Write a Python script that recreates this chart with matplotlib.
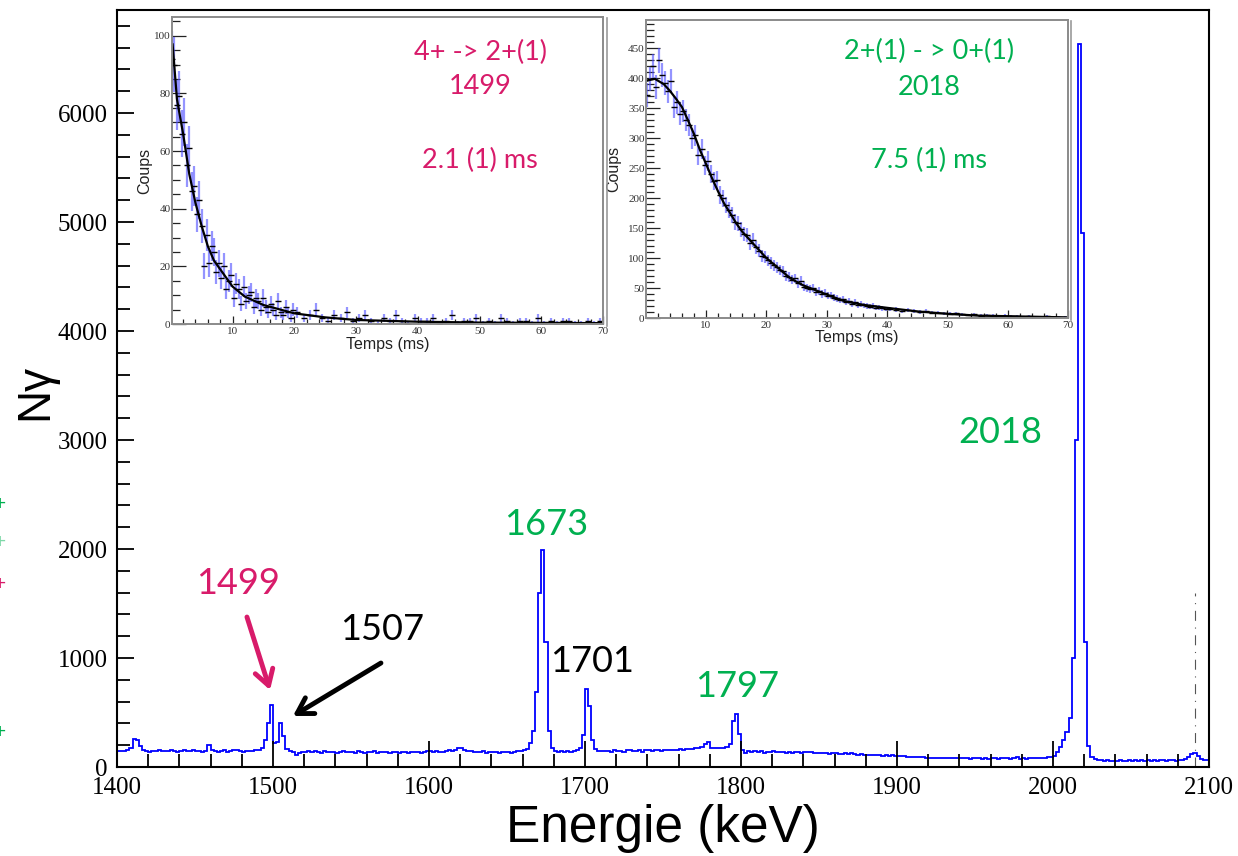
import numpy as np
import matplotlib
matplotlib.use('Agg')
import matplotlib.pyplot as plt
from matplotlib.ticker import MultipleLocator
from matplotlib.lines import Line2D

# ---------------- data ----------------
energy_edges = np.arange(1400, 2102, 2)   # keV, 2 keV bins
counts = [
    148, 146, 150, 152, 175, 255, 248, 195, 158, 146, 140, 150, 144, 154, 146, 150, 143, 156, 148, 142, 150, 154, 144, 147, 152,
    148, 144, 140, 148, 198, 156, 146, 138, 150, 156, 142, 148, 158, 152, 146, 136, 144, 148, 150, 158, 156, 170, 250, 405, 570,
    222, 225, 402, 280, 165, 148, 140, 112, 128, 142, 138, 144, 136, 146, 140, 130, 144, 138, 134, 142, 132, 138, 146, 136, 140,
    136, 132, 144, 138, 130, 140, 134, 146, 132, 138, 142, 134, 130, 138, 136, 132, 138, 140, 130, 138, 134, 140, 132, 136, 150,
    146, 138, 144, 140, 136, 146, 156, 144, 152, 170, 176, 152, 146, 144, 142, 134, 140, 144, 132, 136, 138, 134, 128, 136, 134,
    140, 132, 136, 146, 144, 156, 168, 220, 330, 690, 1600, 1995, 1150, 330, 175, 148, 142, 146, 138, 144, 140, 148, 156, 172, 295,
    712, 560, 252, 165, 150, 146, 144, 150, 142, 152, 148, 144, 142, 152, 158, 148, 144, 152, 142, 158, 156, 150, 158, 154, 148,
    156, 160, 152, 158, 156, 162, 158, 166, 168, 162, 172, 175, 180, 210, 232, 176, 172, 178, 170, 176, 180, 208, 420, 485, 302,
    152, 126, 145, 140, 148, 136, 144, 132, 140, 134, 144, 138, 134, 142, 132, 136, 130, 138, 142, 132, 138, 134, 136, 128, 132,
    126, 132, 128, 120, 126, 130, 122, 118, 124, 120, 128, 122, 114, 118, 112, 114, 108, 112, 106, 110, 104, 108, 102, 106, 100,
    102, 98, 100, 94, 90, 96, 92, 88, 94, 82, 80, 80, 80, 79, 78, 82, 84, 78, 86, 80, 78, 84, 80, 76, 82,
    78, 80, 74, 80, 76, 78, 80, 76, 78, 82, 78, 76, 80, 88, 72, 78, 74, 80, 78, 82, 80, 84, 82, 90, 96,
    102, 140, 182, 250, 320, 450, 1000, 3000, 6630, 4900, 1150, 190, 92, 75, 68, 62, 58, 60, 55, 58, 56, 60, 58, 55, 60,
    58, 62, 56, 60, 58, 62, 58, 60, 56, 62, 60, 58, 62, 60, 58, 64, 62, 70, 88, 115, 130, 100, 72, 62, 60,
]
cut_energy = [2091]
cut_height = [1600]

peak_labels = ['1499', '1507', '1673', '1701', '1797', '2018']

# inset 1 : 1499 keV decay
t1 = np.concatenate([np.arange(0.2, 20.0, 0.4), np.arange(20.5, 70.0, 1.0)])
c1 = [92, 90, 76, 79, 66, 70, 55, 61, 46, 48, 38, 43, 34, 20, 31, 21, 27, 25, 18, 21,
      16, 20, 12, 15, 17, 9, 14, 12, 7, 13, 8, 10, 11, 6, 9, 8, 5, 9, 6, 4,
      7, 5, 3, 8, 4, 3, 6, 4, 2, 5,
      4, 2, 3, 5, 2, 1, 3, 2, 4, 1, 2, 3, 1, 0, 2, 1, 3, 1, 0, 2,
      1, 1, 2, 0, 1, 3, 0, 1, 1, 2, 0, 1, 0, 2, 1, 0, 1, 1, 0, 2,
      0, 1, 0, 1, 1, 0, 0, 1, 0, 1]
fit1_t = [0.3, 1, 2, 3, 4, 5, 6, 7, 8, 10, 12, 15, 20, 25, 30, 40, 50, 60, 70]
fit1_c = [97, 78, 66, 52, 42, 34, 27, 22, 19, 13, 9.5, 6.6, 3.7, 2.3, 1.4, 0.8, 0.5, 0.4, 0.3]

# inset 2 : 2018 keV decay
t2 = np.concatenate([np.arange(0.25, 40.0, 0.5), np.arange(40.5, 70.0, 1.0)])
c2 = [372, 398, 420, 385, 430, 405, 392, 378, 395, 352, 360, 341, 345, 330, 322, 300, 305, 272, 282, 255,
      262, 240, 228, 230, 205, 200, 188, 180, 172, 160, 158, 148, 140, 138, 125, 130, 118, 112, 104, 102,
      96, 92, 88, 85, 80, 78, 70, 68, 64, 66, 58, 62, 52, 50, 48, 50, 44, 45, 40, 42,
      37, 38, 34, 32, 30, 31, 27, 28, 24, 26, 22, 24, 21, 20, 19, 20, 17, 18, 16, 15,
      15, 14, 12, 13, 11, 10, 11, 9, 9, 8, 7, 8, 6, 5, 6, 4, 5, 4, 3, 4,
      3, 3, 2, 3, 2, 2, 3, 1, 2, 2]
fit2_t = [0.3, 1.5, 3, 4, 5, 6, 7, 8, 9, 10, 11, 12, 13, 14, 15, 16, 18, 20, 22, 24, 26, 28, 30,
          33, 36, 40, 45, 50, 55, 60, 65, 70]
fit2_c = [396, 399, 390, 379, 366, 352, 330, 307, 280, 257, 233, 211, 191, 175, 158, 144, 122, 100,
          83, 66, 55, 47, 39, 28, 22, 17, 11, 7, 4, 3, 2, 1]

# ---------------- style ----------------
MAG = '#d81b6a'
GRN = '#00b050'
BLUE = '#0000ff'
SERIF = 'Liberation Serif'
SANS = 'Liberation Sans'
CAL = 'Lato'

plt.rcParams['font.family'] = SERIF

W, H = 1238, 856
fig = plt.figure(figsize=(W / 100, H / 100), dpi=100)
fig.patch.set_facecolor('white')


def fx(px):
    return px / W


def fy(py):
    return (H - py) / H


# ---------------- main axes ----------------
ax = fig.add_axes([fx(117), fy(767), fx(1209) - fx(117), fy(10) - fy(767)])
ax.stairs(counts, energy_edges, color=BLUE, lw=1.3)
ax.vlines(cut_energy, 0, cut_height, color='#555555', lw=0.8, linestyles=(0, (9, 6, 1, 6)))
ax.set_xlim(1400, 2100)
ax.set_ylim(0, 6945)
ax.xaxis.set_major_locator(MultipleLocator(100))
ax.xaxis.set_minor_locator(MultipleLocator(20))
ax.yaxis.set_major_locator(MultipleLocator(1000))
ax.yaxis.set_minor_locator(MultipleLocator(200))
ax.tick_params(which='both', direction='in', top=False, right=False, width=1.3, color='black')
ax.tick_params(axis='x', which='major', length=19, pad=7, labelsize=18)
ax.tick_params(axis='x', which='minor', length=9.5)
ax.tick_params(axis='y', which='major', length=12, pad=6.5, labelsize=18)
ax.tick_params(axis='y', which='minor', length=9.5)
for s in ax.spines.values():
    s.set_linewidth(1.5)

fig.text(fx(663), fy(842), 'Energie (keV)', family=SANS, fontsize=37, ha='center', va='baseline')
fig.text(fx(35), fy(392), 'N\u03b3', family=SANS, fontsize=33, ha='center', va='center', rotation=90)

# peak labels
ax.text(1477.6, 1679, peak_labels[0], color=MAG, family=CAL, fontsize=26, ha='center', va='center')
ax.text(1569.9, 1257, peak_labels[1], color='black', family=CAL, fontsize=26, ha='center', va='center')
ax.text(1675.0, 2229, peak_labels[2], color=GRN, family=CAL, fontsize=26, ha='center', va='center')
ax.text(1704.5, 972, peak_labels[3], color='black', family=CAL, fontsize=26, ha='center', va='center')
ax.text(1797.4, 743, peak_labels[4], color=GRN, family=CAL, fontsize=26, ha='center', va='center')
ax.text(1966.0, 3073, peak_labels[5], color=GRN, family=CAL, fontsize=26, ha='center', va='center')

ax.annotate('', xy=(1498.1, 706), xytext=(1483.3, 1376),
            arrowprops=dict(arrowstyle='->,head_length=0.5,head_width=0.3', color=MAG, lw=3.5,
                            mutation_scale=22, shrinkA=0, shrinkB=0))
ax.annotate('', xy=(1512.8, 468), xytext=(1569.2, 954),
            arrowprops=dict(arrowstyle='->,head_length=0.5,head_width=0.3', color='black', lw=3.5,
                            mutation_scale=22, shrinkA=0, shrinkB=0))

# stray slide marks at the left edge
for yy, col in [(505, GRN), (543, '#7fd8a8'), (585, MAG), (733, GRN)]:
    fig.text(0.0, fy(yy), '+', color=col, family=SANS, fontsize=15, ha='center', va='center')


# ---------------- insets ----------------
def style_inset(a, ymaj, ymin):
    a.set_facecolor('white')
    for s in a.spines.values():
        s.set_color('#8a8a8a')
        s.set_linewidth(1.4)
    a.xaxis.set_major_locator(MultipleLocator(10))
    a.xaxis.set_minor_locator(MultipleLocator(2))
    a.yaxis.set_major_locator(MultipleLocator(ymaj))
    a.yaxis.set_minor_locator(MultipleLocator(ymin))
    a.tick_params(which='both', direction='in', top=False, right=False, color='#222222',
                  labelcolor='#333333', labelsize=8, width=0.9)
    a.tick_params(axis='y', which='major', length=10, pad=1)
    a.tick_params(axis='y', which='minor', length=5.5)
    a.tick_params(axis='x', which='major', length=6, pad=2.5)
    a.tick_params(axis='x', which='minor', length=3.5)


ERR = (0.3, 0.3, 1.0, 0.6)

ax1 = fig.add_axes([fx(172), fy(324), fx(603) - fx(172), fy(17) - fy(324)])
style_inset(ax1, 20, 5)
c1a = np.array(c1, dtype=float)
ax1.errorbar(t1, c1a, yerr=np.sqrt(np.maximum(c1a, 1)), fmt='_', color='black', ms=4, mew=1.0,
             ecolor=ERR, elinewidth=1.6, capsize=0)
ax1.plot(fit1_t, fit1_c, color='black', lw=1.6)
ax1.set_xlim(0.2, 70)
ax1.set_ylim(0, 106.5)
ax1.text(0.5, -0.068, 'Temps (ms)', transform=ax1.transAxes, family=SANS, fontsize=11.5,
         color='#222222', ha='center', va='center')
ax1.text(-0.063, 0.5, 'Coups', transform=ax1.transAxes, family=SANS, fontsize=11.5,
         color='#222222', ha='center', va='center', rotation=90)
ax1.text(0.715, 0.886, '4+ -> 2+(1)', transform=ax1.transAxes, family=CAL, fontsize=19.5,
         color=MAG, ha='center', va='center')
ax1.text(0.715, 0.772, peak_labels[0], transform=ax1.transAxes, family=CAL, fontsize=19.5,
         color=MAG, ha='center', va='center')
ax1.text(0.715, 0.534, '2.1 (1) ms', transform=ax1.transAxes, family=CAL, fontsize=19.5,
         color=MAG, ha='center', va='center')

ax2 = fig.add_axes([fx(646), fy(318), fx(1068) - fx(646), fy(20) - fy(318)])
style_inset(ax2, 50, 10)
c2a = np.array(c2, dtype=float)
ax2.errorbar(t2, c2a, yerr=np.sqrt(np.maximum(c2a, 1)), fmt='_', color='black', ms=4, mew=1.0,
             ecolor=ERR, elinewidth=1.6, capsize=0)
ax2.plot(fit2_t, fit2_c, color='black', lw=1.6)
ax2.set_xlim(0.05, 70)
ax2.set_ylim(0, 497)
ax2.text(0.5, -0.067, 'Temps (ms)', transform=ax2.transAxes, family=SANS, fontsize=11.5,
         color='#222222', ha='center', va='center')
ax2.text(-0.076, 0.5, 'Coups', transform=ax2.transAxes, family=SANS, fontsize=11.5,
         color='#222222', ha='center', va='center', rotation=90)
ax2.text(0.671, 0.893, '2+(1) - > 0+(1)', transform=ax2.transAxes, family=CAL, fontsize=19.5,
         color=GRN, ha='center', va='center')
ax2.text(0.671, 0.775, peak_labels[5], transform=ax2.transAxes, family=CAL, fontsize=19.5,
         color=GRN, ha='center', va='center')
ax2.text(0.671, 0.530, '7.5 (1) ms', transform=ax2.transAxes, family=CAL, fontsize=19.5,
         color=GRN, ha='center', va='center')

# frame shadows on the right of the inset pictures
fig.add_artist(Line2D([fx(606.5), fx(606.5)], [fy(326), fy(18)], color='#9a9a9a', lw=1.2))
fig.add_artist(Line2D([fx(1070.5), fx(1070.5)], [fy(320), fy(21)], color='#9a9a9a', lw=1.2))

fig.savefig('out.png', dpi=100, facecolor='white')
